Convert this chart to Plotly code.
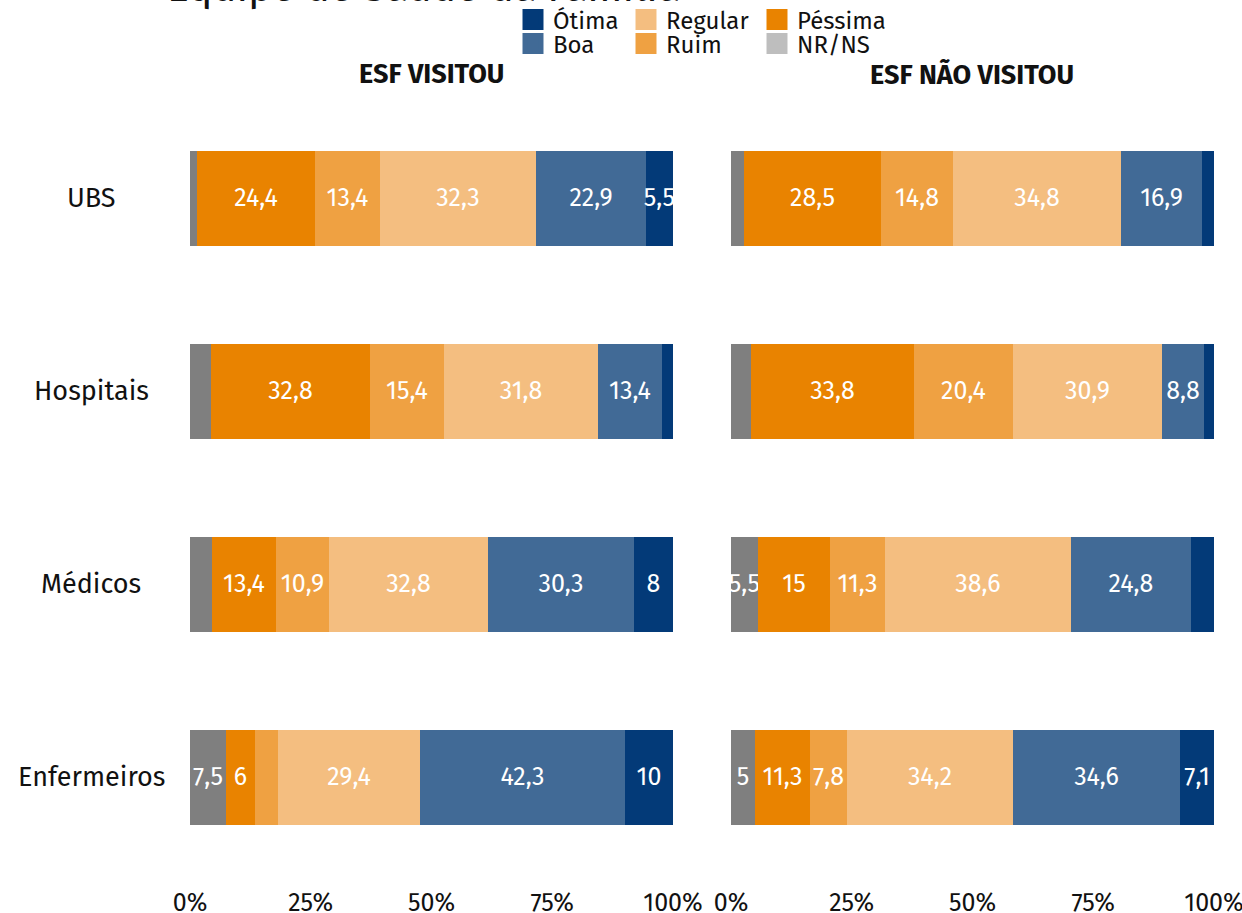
import plotly.graph_objects as go

W, H = 1242, 913

categories = ["UBS", "Hospitais", "Médicos", "Enfermeiros"]
panel_titles = ["ESF VISITOU", "ESF NÃO VISITOU"]
series_names = ["NR/NS", "Péssima", "Ruim", "Regular", "Boa", "Ótima"]
bar_colors = ["#7f7f7f", "#e98300", "#efa142", "#f4be80", "#416a96", "#033a78"]
legend_colors = ["#bebebe", "#e98300", "#efa142", "#f4be80", "#416a96", "#033a78"]
x_tickvals = [0, 25, 50, 75, 100]
x_ticktext = ["0%", "25%", "50%", "75%", "100%"]

# ESF VISITOU
vis_nrns = [1.5, 4.4, 4.5, 7.5]
vis_pessima = [24.4, 32.8, 13.4, 6.0]
vis_ruim = [13.4, 15.4, 10.9, 4.8]
vis_regular = [32.3, 31.8, 32.8, 29.4]
vis_boa = [22.9, 13.4, 30.3, 42.3]
vis_otima = [5.5, 2.2, 8.0, 10.0]

# ESF NÃO VISITOU
nao_nrns = [2.6, 4.1, 5.5, 5.0]
nao_pessima = [28.5, 33.8, 15.0, 11.3]
nao_ruim = [14.8, 20.4, 11.3, 7.8]
nao_regular = [34.8, 30.9, 38.6, 34.2]
nao_boa = [16.9, 8.8, 24.8, 34.6]
nao_otima = [2.4, 2.0, 4.8, 7.1]

panels = [
    [vis_nrns, vis_pessima, vis_ruim, vis_regular, vis_boa, vis_otima],
    [nao_nrns, nao_pessima, nao_ruim, nao_regular, nao_boa, nao_otima],
]

FONT = "Fira Sans, Open Sans, Noto Sans, sans-serif"
TXT = "#111111"


def fmt(v):
    return f"{v:g}".replace(".", ",") if v >= 5 else ""


fig = go.Figure()
axes = [("x", "y"), ("x2", "y2")]
for p, vals in enumerate(panels):
    xa, ya = axes[p]
    for name, color, v in zip(series_names, bar_colors, vals):
        fig.add_trace(go.Bar(
            y=categories, x=v, orientation="h", name=name,
            marker=dict(color=color, line=dict(width=0)),
            text=[fmt(a) for a in v], textposition="inside",
            insidetextanchor="middle", textangle=0, constraintext="none",
            textfont=dict(color="white", size=25, family=FONT),
            width=0.49, showlegend=False, xaxis=xa, yaxis=ya,
            hoverinfo="x+y+name",
        ))

# legend: one single-item legend per entry, arranged as 3 columns x 2 rows
legend_order = ["Ótima", "Boa", "Regular", "Ruim", "Péssima", "NR/NS"]
legend_ids = ["legend", "legend2", "legend3", "legend4", "legend5", "legend6"]
for name, lid in zip(legend_order, legend_ids):
    c = legend_colors[series_names.index(name)]
    fig.add_trace(go.Scatter(
        x=[None], y=[None], mode="markers", name=name,
        marker=dict(symbol="square", size=16, color=c, line=dict(color=c, width=5)),
        legend=lid, showlegend=True, hoverinfo="skip",
    ))

d1 = [190 / W, 673 / W]
d2 = [731 / W, 1214 / W]
ydom = [(H - 873.5) / H, (H - 101.5) / H]

xcommon = dict(range=[0, 100], tickvals=x_tickvals, ticktext=x_ticktext,
               showgrid=False, zeroline=False, showline=False, ticks="",
               ticklabelstandoff=11, ticklabeloverflow="allow",
               fixedrange=True, automargin=False,
               tickfont=dict(family=FONT, size=25, color=TXT))
ycommon = dict(categoryorder="array", categoryarray=categories,
               range=[3.5, -0.5], showticklabels=False, showgrid=False,
               zeroline=False, showline=False, ticks="", domain=ydom,
               automargin=False, fixedrange=True)

legend_common = dict(orientation="v", yanchor="middle", xanchor="left",
                     bgcolor="rgba(0,0,0,0)", borderwidth=0,
                     font=dict(family=FONT, size=24, color=TXT),
                     itemclick=False, itemdoubleclick=False)
col_x = [513, 626, 757]
row_y = [20, 44]
legend_layout = {}
for i, lid in enumerate(legend_ids):
    legend_layout[lid] = dict(x=col_x[i // 2] / W, y=1 - row_y[i % 2] / H, **legend_common)

fig.update_layout(
    width=W, height=H,
    margin=dict(l=0, r=0, t=0, b=0, autoexpand=False),
    paper_bgcolor="white", plot_bgcolor="white",
    barmode="stack", bargap=0,
    xaxis=dict(domain=d1, anchor="y", **xcommon),
    xaxis2=dict(domain=d2, anchor="y2", **xcommon),
    yaxis=dict(anchor="x", **ycommon),
    yaxis2=dict(anchor="x2", matches="y", **ycommon),
    showlegend=True,
    **legend_layout,
)

# cut-off chart title
fig.add_annotation(text="Equipe de Saúde da Família", xref="paper", yref="paper",
                   x=165 / W, y=1 - 14 / H, xanchor="left", yanchor="bottom",
                   showarrow=False, font=dict(family=FONT, size=41, color=TXT))

# panel titles
for t, dom in zip(panel_titles, [d1, d2]):
    fig.add_annotation(text=f"<b>{t}</b>", xref="paper", yref="paper",
                       x=(dom[0] + dom[1]) / 2, y=1 - 74 / H, xanchor="center",
                       yanchor="middle", showarrow=False,
                       font=dict(family=FONT, size=27, color=TXT))

# category labels (centred)
for c in categories:
    fig.add_annotation(text=c, xref="paper", yref="y", x=91 / W, y=c,
                       xanchor="center", yanchor="middle", showarrow=False,
                       font=dict(family=FONT, size=27, color=TXT))

fig.write_html("out.html", config={"displayModeBar": False},
               post_script="document.body.style.margin='0';")
